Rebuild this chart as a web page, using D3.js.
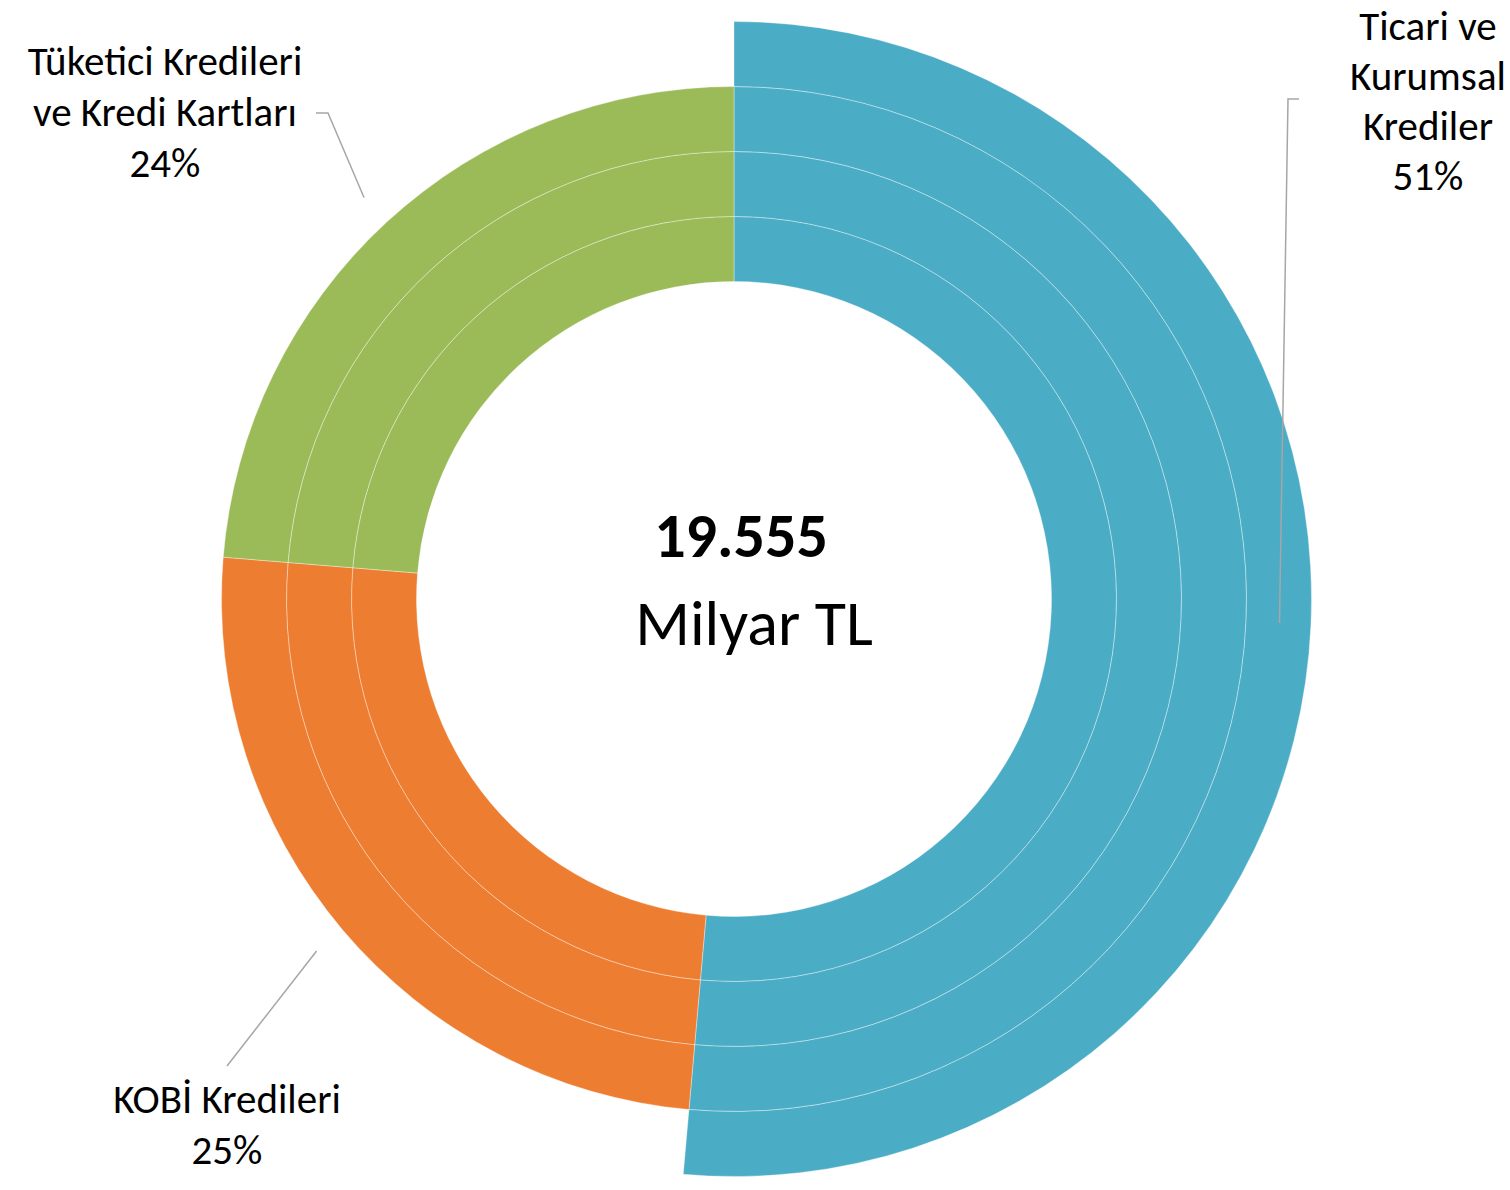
<!DOCTYPE html>
<html>
<head>
<meta charset="utf-8">
<script src="https://cdn.jsdelivr.net/npm/d3@7"></script>
<style>
  body { margin: 0; background: #fff; }
  text { font-family: Carlito, Calibri, Lato, sans-serif; fill: #000; }
</style>
</head>
<body>
<figure id="krediDonut" style="margin:0"></figure>
<script>
// categories and their shares (%)
var categories = ["Ticari ve Kurumsal Krediler", "KOBİ Kredileri", "Tüketici Kredileri ve Kredi Kartları"];
var shares = [51.4, 24.9, 23.7];
var shareLabels = ["51%", "25%", "24%"];
var colors = ["#4BACC6", "#ED7D31", "#9BBB59"];

// the donut is drawn as four rings, the outermost one only shows the first category
var rings = ["Seri 1", "Seri 2", "Seri 3", "Seri 4"];
var outerOnly = "Ticari ve Kurumsal Krediler";

var totalValue = "19.555";
var totalUnit = "Milyar TL";

// label text lines
var labelLines = [
  ["Ticari ve", "Kurumsal", "Krediler", "51%"],
  ["KOBİ Kredileri", "25%"],
  ["Tüketici Kredileri", "ve Kredi Kartları", "24%"]
];

var width = 1510, height = 1190;
var cx = 734, cy = 599;

var svg = d3.select("figure#krediDonut")
  .append("svg")
    .attr("width", width)
    .attr("height", height);

var g = svg.append("g")
  .attr("transform", "translate(" + cx + "," + cy + ")");

// ring radius scale
var r = d3.scaleBand()
  .domain(rings)
  .range([317.5, 577.5])
  .padding(0);

var pie = d3.pie()
  .sort(null)
  .value(function(d) { return d.share; });

var data = categories.map(function(c, i) {
  return {name: c, share: shares[i], color: colors[i], label: shareLabels[i]};
});
var arcs = pie(data);

rings.forEach(function(ring, k) {
  var arc = d3.arc()
    .innerRadius(r(ring))
    .outerRadius(r(ring) + r.bandwidth());
  var isOuter = k === rings.length - 1;
  g.append("g")
    .selectAll("path")
    .data(arcs.filter(function(a) { return !isOuter || a.data.name === outerOnly; }))
    .enter()
    .append("path")
      .attr("d", arc)
      .style("fill", function(d) { return d.data.color; })
      .style("stroke", "#fff")
      .style("stroke-opacity", 0.35)
      .style("stroke-width", 1);
});

// leader lines start on the slice mid angle
var leaderArc = d3.arc().innerRadius(546).outerRadius(546);

var labelSetup = [
  {x: 1428, y: 40, dy: 50, bend: [[1299, 99], [1288, 99]]},
  {x: 227, y: 1113, dy: 51, bend: [[227, 1066]]},
  {x: 165, y: 75, dy: 51, bend: [[316, 113], [328, 113]]}
];

arcs.forEach(function(a, i) {
  var c = leaderArc.centroid(a);
  var pts = labelSetup[i].bend.map(function(p) { return [p[0] - cx, p[1] - cy]; });
  pts.push(c);
  g.append("path")
    .attr("d", d3.line()(pts))
    .style("fill", "none")
    .style("stroke", "#A6A6A6")
    .style("stroke-width", 1.5);

  var t = svg.append("text")
    .attr("text-anchor", "middle")
    .style("font-size", "41px");
  labelLines[i].forEach(function(line, j) {
    t.append("tspan")
      .attr("x", labelSetup[i].x)
      .attr("y", labelSetup[i].y + j * labelSetup[i].dy)
      .text(line);
  });
});

// total in the middle
svg.append("text")
  .attr("x", 741)
  .attr("y", 557)
  .attr("text-anchor", "middle")
  .style("font-size", "62px")
  .style("font-weight", "bold")
  .text(totalValue);

svg.append("text")
  .attr("x", 754)
  .attr("y", 645)
  .attr("text-anchor", "middle")
  .style("font-size", "64px")
  .text(totalUnit);
</script>
</body>
</html>
